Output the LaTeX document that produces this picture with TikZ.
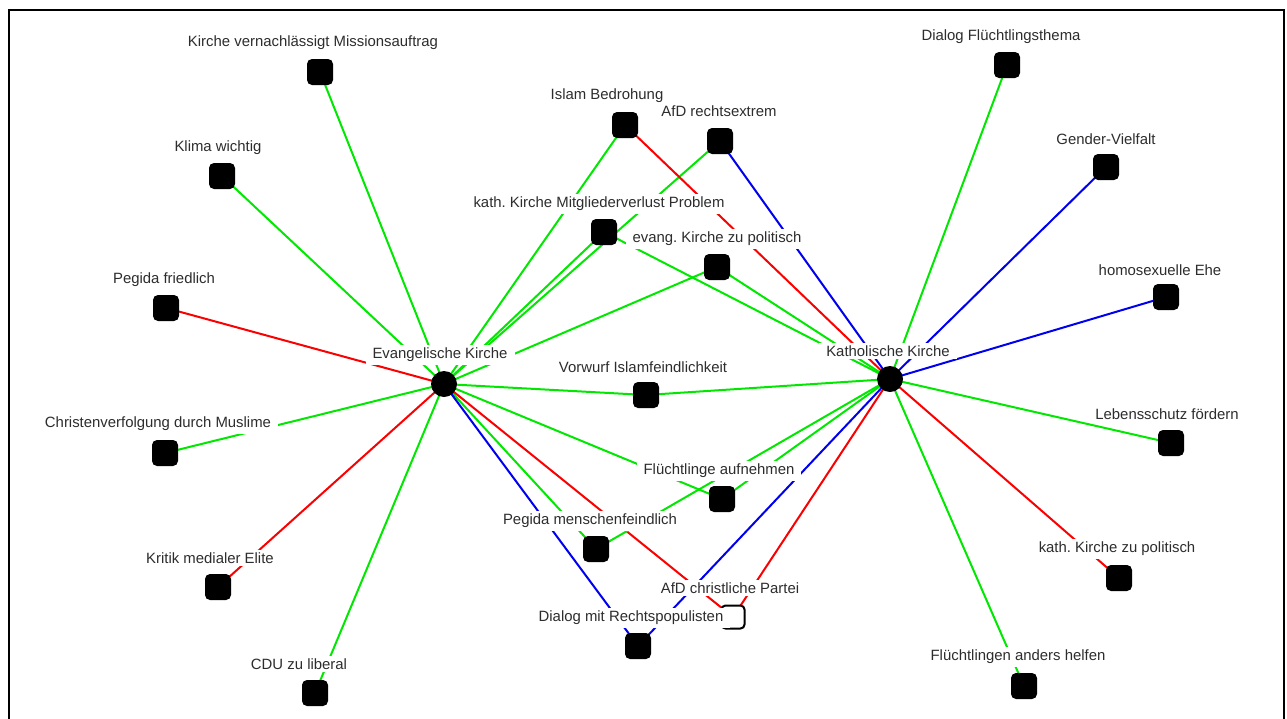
\documentclass[tikz,border=0pt]{standalone}
\usepackage{fontspec}
\setmainfont{Liberation Sans}
\definecolor{lgreen}{RGB}{0,232,0}
\definecolor{lred}{RGB}{250,0,0}
\definecolor{lblue}{RGB}{0,0,240}
\definecolor{txt}{RGB}{45,45,45}
\frenchspacing
\begin{document}
\begin{tikzpicture}[x=1pt,y=-1pt,
  sq/.style={draw=none,fill=black,minimum size=26pt,inner sep=0pt,rounded corners=5pt},
  hsq/.style={draw=black,line width=2pt,fill=white,minimum size=23pt,inner sep=0pt,rounded corners=4pt},
  hub/.style={circle,fill=black,minimum size=26pt,inner sep=0pt},
  lab/.style={fill=white,text=txt,inner xsep=7pt,inner ysep=3pt,font=\fontsize{14.9}{17}\selectfont},
  eg/.style={draw=lgreen,line width=2pt},
  er/.style={draw=lred,line width=2pt},
  eb/.style={draw=lblue,line width=2pt}]
\useasboundingbox (0,0) rectangle (1287,718);
\fill[white] (0,0) rectangle (1287,718);
\draw[line width=2pt] (9.3,730) -- (9.3,10) -- (1284.3,10) -- (1284.3,730);

% node coordinates
\coordinate (E) at (444,384);
\coordinate (K) at (890,379);
\coordinate (n1) at (320,72);
\coordinate (n2) at (222,176);
\coordinate (n3) at (166,308);
\coordinate (n4) at (165,453);
\coordinate (n5) at (218,587);
\coordinate (n6) at (315,693);
\coordinate (n7) at (625,125);
\coordinate (n8) at (720,141);
\coordinate (n9) at (604,232);
\coordinate (n10) at (717,267);
\coordinate (n11) at (646,395);
\coordinate (n12) at (722,499);
\coordinate (n13) at (596,549);
\coordinate (n14) at (733,617);
\coordinate (n15) at (638,646);
\coordinate (n16) at (1007,65);
\coordinate (n17) at (1106,167);
\coordinate (n18) at (1166,297);
\coordinate (n19) at (1171,443);
\coordinate (n20) at (1119,578);
\coordinate (n21) at (1024,686);

% edges from Evangelische Kirche
\draw[eg] (E) -- (n1);
\draw[eg] (E) -- (n2);
\draw[er] (E) -- (n3);
\draw[eg] (E) -- (n4);
\draw[er] (E) -- (n5);
\draw[eg] (E) -- (n6);
\draw[eg] (E) -- (n7);
\draw[eg] (E) -- (n8);
\draw[eg] (E) -- (n9);
\draw[eg] (E) -- (n10);
\draw[eg] (E) -- (n11);
\draw[eg] (E) -- (n12);
\draw[eg] (E) -- (n13);
\draw[er] (E) -- (n14);
\draw[eb] (E) -- (n15);
% edges from Katholische Kirche
\draw[eg] (K) -- (n16);
\draw[eb] (K) -- (n17);
\draw[eb] (K) -- (n18);
\draw[eg] (K) -- (n19);
\draw[er] (K) -- (n20);
\draw[eg] (K) -- (n21);
\draw[er] (K) -- (n7);
\draw[eb] (K) -- (n8);
\draw[eg] (K) -- (n9);
\draw[eg] (K) -- (n10);
\draw[eg] (K) -- (n11);
\draw[eg] (K) -- (n12);
\draw[eg] (K) -- (n13);
\draw[er] (K) -- (n14);
\draw[eb] (K) -- (n15);

% nodes
\node[hub] (hE) at (E) {};
\node[hub] (hK) at (K) {};
\node[sq] (s1) at (n1) {};
\node[sq] (s2) at (n2) {};
\node[sq] (s3) at (n3) {};
\node[sq] (s4) at (n4) {};
\node[sq] (s5) at (n5) {};
\node[sq] (s6) at (n6) {};
\node[sq] (s7) at (n7) {};
\node[sq] (s8) at (n8) {};
\node[sq] (s9) at (n9) {};
\node[sq] (s10) at (n10) {};
\node[sq] (s11) at (n11) {};
\node[sq] (s12) at (n12) {};
\node[sq] (s13) at (n13) {};
\node[hsq] (s14) at (n14) {};
\node[sq] (s15) at (n15) {};
\node[sq] (s16) at (n16) {};
\node[sq] (s17) at (n17) {};
\node[sq] (s18) at (n18) {};
\node[sq] (s19) at (n19) {};
\node[sq] (s20) at (n20) {};
\node[sq] (s21) at (n21) {};

% labels
\node[lab] (lE) at (440,355) {Evangelische Kirche};
\node[lab] (lK) at (888,351) {Katholische Kirche};
\node[lab] (l1) at (313,43) {Kirche vernachlässigt Missionsauftrag};
\node[lab] (l2) at (218,148) {Klima wichtig};
\node[lab] (l3) at (164,280) {Pegida friedlich};
\node[lab] (l4) at (158,424) {Christenverfolgung durch Muslime};
\node[lab] (l5) at (210,558) {Kritik medialer Elite};
\node[lab] (l6) at (299,664) {CDU zu liberal};
\node[lab] (l7) at (607,96) {Islam Bedrohung};
\node[lab] (l8) at (719,111) {AfD rechtsextrem};
\node[lab] (l9) at (599,204) {kath. Kirche Mitgliederverlust Problem};
\node[lab] (l10) at (717,239) {evang. Kirche zu politisch};
\node[lab] (l11) at (643,367) {Vorwurf Islamfeindlichkeit};
\node[lab] (l12) at (719,471) {Flüchtlinge aufnehmen};
\node[lab] (l13) at (590,521) {Pegida menschenfeindlich};
\node[lab] (l14) at (730,588) {AfD christliche Partei};
\node[lab] (l15) at (631,618) {Dialog mit Rechtspopulisten};
\node[lab] (l16) at (1001,37) {Dialog Flüchtlingsthema};
\node[lab] (l17) at (1106,139) {Gender-Vielfalt};
\node[lab] (l18) at (1160,270) {homosexuelle Ehe};
\node[lab] (l19) at (1167,414) {Lebensschutz fördern};
\node[lab] (l20) at (1117,549) {kath. Kirche zu politisch};
\node[lab] (l21) at (1018,657) {Flüchtlingen anders helfen};
\end{tikzpicture}
\end{document}
